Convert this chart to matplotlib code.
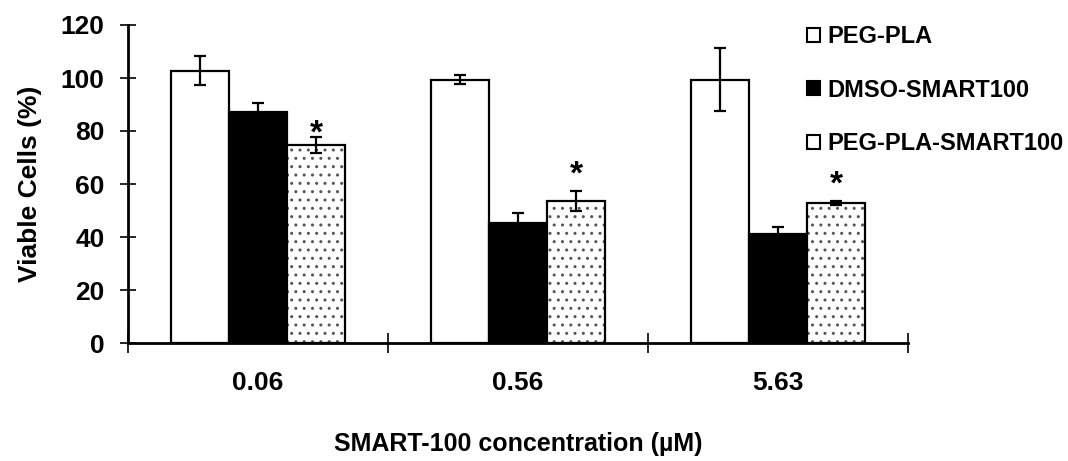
import matplotlib
matplotlib.use("Agg")
import matplotlib.pyplot as plt
import numpy as np
from matplotlib.patches import Patch

categories = ["0.06", "0.56", "5.63"]
series_names = ["PEG-PLA", "DMSO-SMART100", "PEG-PLA-SMART100"]
peg_pla = [102.8, 99.4, 99.4]
peg_pla_err = [5.5, 1.7, 12.0]
dmso_smart = [87.3, 45.2, 41.2]
dmso_smart_err = [3.3, 4.0, 2.7]
peg_pla_smart = [74.6, 53.7, 52.9]
peg_pla_smart_err = [3.0, 3.8, 0.7]
star_level = [79.0, 63.5, 59.5]   # height of the significance mark (%)
yticks = [0, 20, 40, 60, 80, 100, 120]

plt.rcParams['font.family'] = ['Liberation Sans', 'DejaVu Sans']
plt.rcParams['font.weight'] = 'bold'
plt.rcParams['hatch.linewidth'] = 1.0

fig = plt.figure(figsize=(10.68, 4.61), dpi=100)
ax = fig.add_axes([128/1068, 1-343/461, 780/1068, 318/461])

x = np.arange(len(categories))
w = 0.223
lw = 1.6

ax.bar(x - w, peg_pla, w, color='white', edgecolor='black', linewidth=lw, zorder=2)
ax.bar(x, dmso_smart, w, color='black', edgecolor='black', linewidth=lw, zorder=2)
ax.bar(x + w, peg_pla_smart, w, color='white', edgecolor='#555555', hatch='..', linewidth=0, zorder=2)
ax.bar(x + w, peg_pla_smart, w, color='none', edgecolor='black', linewidth=lw, zorder=3)

ekw = dict(fmt='none', ecolor='black', elinewidth=1.6, capsize=4, capthick=1.6, zorder=4)
ax.errorbar(x - w, peg_pla, yerr=peg_pla_err, **ekw)
ax.errorbar(x, dmso_smart, yerr=dmso_smart_err, **ekw)
ax.errorbar(x + w, peg_pla_smart, yerr=peg_pla_smart_err, **ekw)

for xi, sy in zip(x, star_level):
    ax.text(xi + w, sy, "*", ha='center', va='center', fontsize=24, fontweight='bold')

ax.set_xlim(-0.5, len(categories) - 0.5)
ax.set_ylim(0, 120)
ax.set_yticks(yticks)
ax.set_yticklabels([str(v) for v in yticks], fontsize=19, fontweight='bold')
ax.tick_params(axis='y', direction='inout', length=12, width=1.2, pad=11)

ax.set_xticks(np.arange(-0.5, len(categories) + 0.5, 1.0))
ax.set_xticklabels([])
ax.tick_params(axis='x', which='major', direction='inout', length=14, width=1.2)
ax.set_xticks(x, minor=True)
ax.set_xticklabels(categories, minor=True, fontsize=19, fontweight='bold')
ax.tick_params(axis='x', which='minor', length=0, pad=20)

for sp in ['top', 'right']:
    ax.spines[sp].set_visible(False)
for sp in ['left', 'bottom']:
    ax.spines[sp].set_linewidth(2)

ax.set_ylabel("Viable Cells (%)", fontsize=19, fontweight='bold', labelpad=13)
ax.set_xlabel("SMART-100 concentration (µM)", fontsize=18, fontweight='bold', labelpad=27)

handles = [
    Patch(facecolor='white', edgecolor='black', linewidth=1.5),
    Patch(facecolor='black', edgecolor='black', linewidth=1.5),
    Patch(facecolor='white', edgecolor='black', linewidth=1.5, hatch='.'),
]
fig.legend(handles, series_names, loc='upper left', bbox_to_anchor=(807/1068, 1-25/461),
           frameon=False, prop={'size': 17, 'weight': 'bold'},
           handlelength=0.55, handleheight=0.55, handletextpad=0.3, labelspacing=1.3,
           borderpad=0, borderaxespad=0)

fig.savefig("out.png", dpi=100)
